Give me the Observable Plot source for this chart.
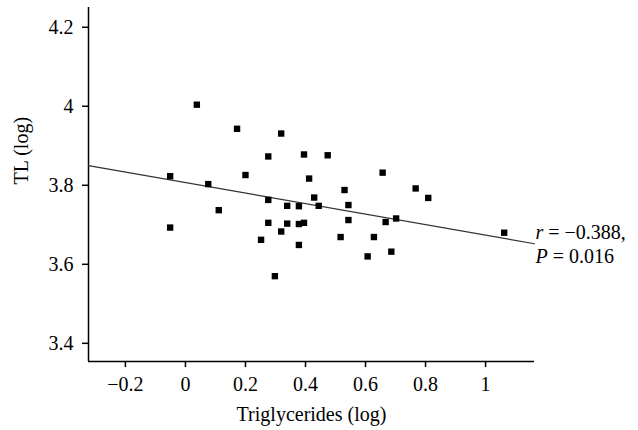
<!DOCTYPE html>
<html><head><meta charset="utf-8">
<script src="https://cdn.jsdelivr.net/npm/d3@7"></script>
<script src="https://cdn.jsdelivr.net/npm/@observablehq/plot@0.6"></script>
<style>body{margin:0;background:#fff}</style>
</head><body><div id="chart"></div>
<script>
const triglycerides = [-0.051, -0.051, 0.038, 0.076, 0.111, 0.172, 0.200, 0.276, 0.276, 0.252, 0.276, 0.319, 0.298, 0.319, 0.339, 0.339, 0.378, 0.378, 0.395, 0.378, 0.395, 0.412, 0.429, 0.444, 0.474, 0.530, 0.543, 0.543, 0.517, 0.628, 0.607, 0.657, 0.667, 0.686, 0.702, 0.767, 0.809, 1.062];
const tl = [3.823, 3.693, 4.004, 3.803, 3.737, 3.943, 3.826, 3.873, 3.763, 3.662, 3.705, 3.931, 3.570, 3.683, 3.748, 3.703, 3.747, 3.702, 3.705, 3.649, 3.878, 3.817, 3.769, 3.748, 3.876, 3.788, 3.750, 3.712, 3.669, 3.669, 3.620, 3.832, 3.707, 3.632, 3.716, 3.792, 3.768, 3.680];
const xTicks = [-0.2, 0, 0.2, 0.4, 0.6, 0.8, 1];
const yTicks = [3.4, 3.6, 3.8, 4, 4.2];
const xDomain = [-0.323, 1.163];
const yDomain = [3.354, 4.25];
const fitX = [-0.323, 1.163];
const fitY = [3.850, 3.652];
const statLines = ["r = −0.388,", "P = 0.016"];
const xLabel = "Triglycerides (log)";
const yLabel = "TL (log)";

const points = triglycerides.map((x, i) => ({x, y: tl[i]}));
const fit = fitX.map((x, i) => ({x, y: fitY[i]}));
const fmt = d => (d < 0 ? "−" : "") + Math.abs(d);
const FONT = "'Liberation Serif', serif";

const svg = Plot.plot({
  width: 638, height: 430,
  marginLeft: 88, marginRight: 104, marginTop: 7, marginBottom: 69,
  style: {fontFamily: FONT, fontSize: "19px", color: "#000", background: "#fff"},
  x: {domain: xDomain},
  y: {domain: yDomain},
  marks: [
    Plot.axisX({ticks: xTicks, tickSize: 6, tickPadding: 9, tickFormat: fmt, label: null, strokeWidth: 1.5}),
    Plot.axisY({ticks: yTicks, tickSize: 6, tickPadding: 9, tickFormat: fmt, label: null, strokeWidth: 1.5}),
    Plot.ruleY([yDomain[0]], {stroke: "#000", strokeWidth: 1.5}),
    Plot.ruleX([xDomain[0]], {stroke: "#000", strokeWidth: 1.5}),
    Plot.line(fit, {x: "x", y: "y", stroke: "#333", strokeWidth: 1.2}),
    Plot.dot(points, {x: "x", y: "y", symbol: "square", r: 3.6, fill: "#000", stroke: "none"}),
    Plot.text([statLines[0]], {x: fitX[1], y: fitY[1], textAnchor: "start", lineAnchor: "bottom", dx: 1, dy: -5}),
    Plot.text([statLines[1]], {x: fitX[1], y: fitY[1], textAnchor: "start", lineAnchor: "bottom", dx: 1, dy: 19}),
    Plot.text([xLabel], {frameAnchor: "bottom", lineAnchor: "middle", dy: 53}),
    Plot.text([yLabel], {frameAnchor: "left", lineAnchor: "middle", rotate: -90, dx: -67})
  ]
});

const root = d3.select(svg);
root.selectAll("g").style("font-family", FONT).style("font-size", "20px").style("font-variant", "normal");
root.selectAll("text").style("font-family", FONT).style("font-size", "20px");
root.selectAll("text").each(function() {
  const t = this.textContent;
  if (statLines.includes(t)) {
    const sel = d3.select(this);
    sel.text(null);
    sel.append("tspan").attr("font-style", "italic").text(t[0]);
    sel.append("tspan").text(t.slice(1));
  }
});

document.getElementById("chart").appendChild(svg);
</script>
</body></html>
